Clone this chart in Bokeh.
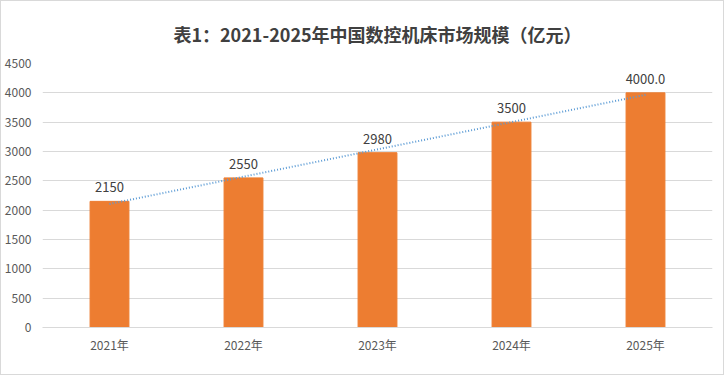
import numpy as np
from bokeh.plotting import figure
from bokeh.models import ColumnDataSource, Range1d, FixedTicker, LabelSet
from bokeh.core.properties import value
from bokeh.embed import file_html
from bokeh.resources import INLINE

years = ["2021年", "2022年", "2023年", "2024年", "2025年"]
values = [2150, 2550, 2980, 3500, 4000]
labels = ["2150", "2550", "2980", "3500", "4000.0"]
title_text = "表1：2021-2025年中国数控机床市场规模（亿元）"
yticks = [0, 500, 1000, 1500, 2000, 2500, 3000, 3500, 4000, 4500]

FONT = "Noto Sans CJK SC"

src = ColumnDataSource(dict(x=years, top=values, lab=labels))

p = figure(x_range=years, y_range=Range1d(0, 4500), width=724, height=375,
           output_backend="svg", toolbar_location=None,
           min_border_left=40, min_border_right=13, min_border_top=0, min_border_bottom=49)
p.styles = {"border": "1px solid #d9d9d9"}
p.outline_line_color = None
p.background_fill_color = "white"
p.border_fill_color = "white"

p.title.text = title_text
p.title.align = "center"
p.title.text_font = FONT
p.title.text_font_size = "18px"
p.title.text_font_style = "bold"
p.title.text_color = "#404040"
p.title.standoff = 34

p.vbar(x="x", top="top", width=0.29, source=src, color="#ED7D31")

# linear trend line from data
xi = np.arange(1, len(values) + 1)
k, b = np.polyfit(xi, values, 1)
trend_x = [years[0], years[-1]]
trend_y = [k * xi[0] + b, k * xi[-1] + b]
p.line(trend_x, trend_y, line_color="#5B9BD5", line_width=2, line_dash="1 2")

p.add_layout(LabelSet(x="x", y="top", text="lab", source=src, y_offset=9,
                      text_align="center", text_baseline="bottom",
                      text_font_size="13px", text_color="#404040", text_font=value(FONT)))

p.xgrid.grid_line_color = None
p.ygrid.grid_line_color = "#d9d9d9"
p.yaxis.ticker = FixedTicker(ticks=yticks)
p.yaxis.axis_line_color = None
p.yaxis.major_tick_line_color = None
p.yaxis.minor_tick_line_color = None
p.yaxis.major_label_text_font = FONT
p.yaxis.major_label_text_font_size = "12px"
p.yaxis.major_label_text_color = "#595959"
p.yaxis.major_label_standoff = 5

p.xaxis.axis_line_color = "#d9d9d9"
p.xaxis.major_tick_line_color = None
p.xaxis.minor_tick_line_color = None
p.xaxis.major_label_text_font = FONT
p.xaxis.major_label_text_font_size = "12px"
p.xaxis.major_label_text_color = "#595959"
p.xaxis.major_label_standoff = 2
p.x_range.range_padding = 0

open("out.html", "w").write(file_html(p, INLINE))
